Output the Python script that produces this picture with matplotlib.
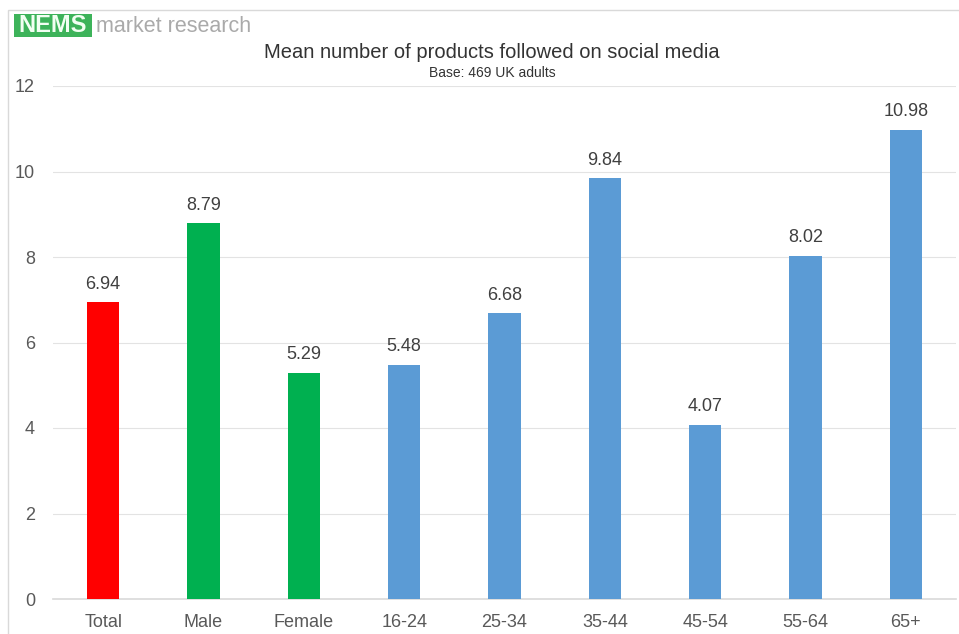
import matplotlib.pyplot as plt
from matplotlib.patches import Rectangle

categories = ["Total", "Male", "Female", "16-24", "25-34", "35-44", "45-54", "55-64", "65+"]
values = [6.94, 8.79, 5.29, 5.48, 6.68, 9.84, 4.07, 8.02, 10.98]
bar_colors = ["#FF0000", "#00B050", "#00B050"] + ["#5B9BD5"] * 6
yticks = [0, 2, 4, 6, 8, 10, 12]

plt.rcParams['font.family'] = ['Liberation Sans Narrow', 'Liberation Sans', 'DejaVu Sans']

fig = plt.figure(figsize=(9.59, 6.34), dpi=100)
W, H = 959, 634

# outer chart frame
fig.patches.append(Rectangle((8 / W, -0.01), 1.0, 1 - 10 / H + 0.01, transform=fig.transFigure,
                             fill=False, edgecolor="#D9D9D9", linewidth=1))

ax = fig.add_axes([53 / W, 1 - 599 / H, (956 - 53) / W, (599 - 86) / H])
x = list(range(len(categories)))
ax.bar(x, values, width=0.32, color=bar_colors, zorder=3)
for xi, v in zip(x, values):
    ax.annotate(f"{v:.2f}", (xi, v), xytext=(0, 7), textcoords="offset points",
                ha="center", va="bottom", fontsize=13, color="#404040")

ax.set_xlim(-0.5, len(categories) - 0.5)
ax.set_ylim(0, 12)
ax.set_yticks(yticks)
ax.set_xticks(x)
ax.set_xticklabels(categories)
ax.yaxis.grid(True, color="#E3E3E3", linewidth=0.8, zorder=0)
for s in ["top", "right", "left"]:
    ax.spines[s].set_visible(False)
ax.spines["bottom"].set_color("#D9D9D9")
ax.spines["bottom"].set_linewidth(1.2)
ax.tick_params(axis="both", length=0, labelsize=13, labelcolor="#595959")
ax.tick_params(axis="y", pad=13)
ax.tick_params(axis="x", pad=11)

fig.text(492 / W, 1 - 52 / H, "Mean number of products followed on social media",
         ha="center", va="center", fontsize=14.5, color="#333333")
fig.text(492 / W, 1 - 73 / H, "Base: 469 UK adults",
         ha="center", va="center", fontsize=10, color="#333333")

# logo
fig.patches.append(Rectangle((14 / W, 1 - 37 / H), 78 / W, 23 / H, transform=fig.transFigure,
                             color="#3DB35A", linewidth=0))
fig.text(53 / W, 1 - 26 / H, "NEMS", ha="center", va="center", fontsize=17,
         fontweight="bold", color="#F2FFF2", family=["Liberation Sans", "DejaVu Sans"])
fig.text(96 / W, 1 - 27 / H, "market research", ha="left", va="center", fontsize=15.5,
         color="#AAAAAA", family=["Liberation Sans", "DejaVu Sans"])

fig.savefig("out.png", dpi=100)
